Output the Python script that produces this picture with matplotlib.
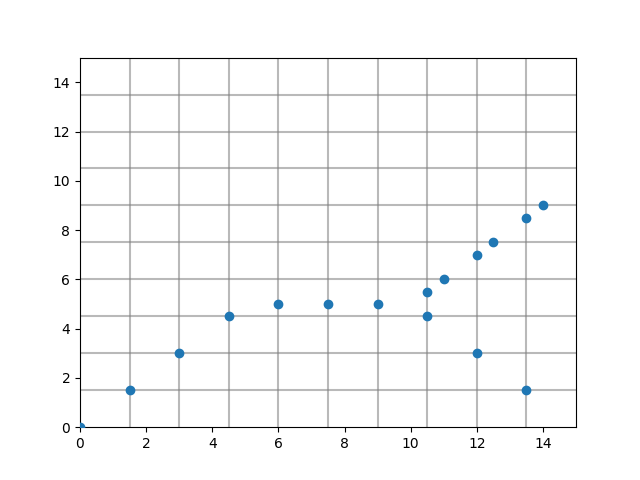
import numpy as np
import matplotlib
matplotlib.use("Agg")
import matplotlib.pyplot as plt

# point coordinates
x = [0, 1.5, 3, 4.5, 6, 7.5, 9, 10.5, 10.5, 11, 12, 12, 12.5, 13.5, 13.5, 14]
y = [0, 1.5, 3, 4.5, 5, 5, 5, 5.5, 4.5, 6, 7, 3, 7.5, 8.5, 1.5, 9]

# grid spacing
cell = 1.5
size = 15

fig, ax = plt.subplots(figsize=(6.4, 4.8), dpi=100)
ax.scatter(x, y, zorder=3)

ax.set_xlim(0, size)
ax.set_ylim(0, size)
# keep minor lines that sit on major ticks (6, 12)
ax.xaxis.remove_overlapping_locs = False
ax.yaxis.remove_overlapping_locs = False
ax.set_xticks(np.arange(cell, size, cell), minor=True)
ax.set_yticks(np.arange(cell, size, cell), minor=True)
ax.tick_params(which="minor", length=0)
ax.grid(which="minor", color="gray", alpha=0.55, linewidth=1.5)

fig.savefig("out.png")
